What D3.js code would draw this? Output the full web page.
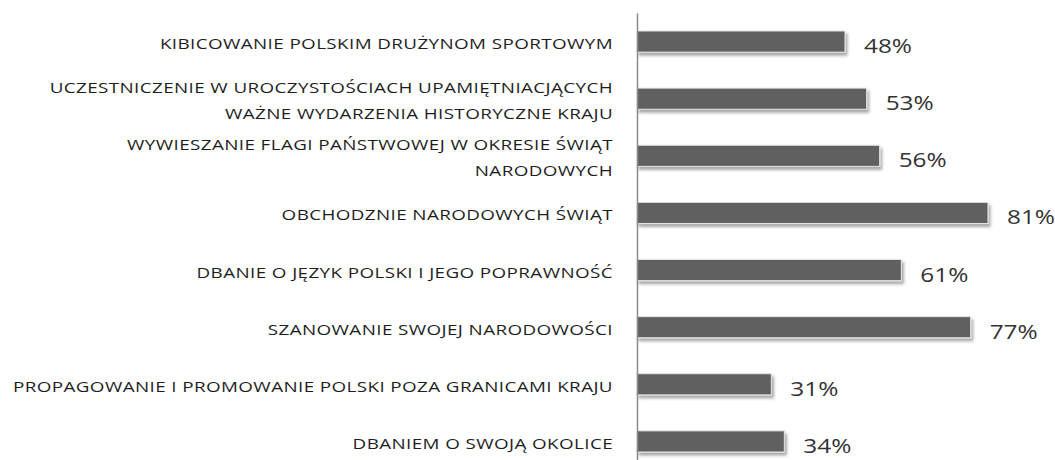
<!DOCTYPE html>
<html>
<head>
<meta charset="utf-8">
<script src="https://cdn.jsdelivr.net/npm/d3@7"></script>
<style>
  body { margin: 0; background: #fff; }
  svg { display: block; }
  .cat-label { font-family: "Open Sans", sans-serif; font-size: 14.5px; letter-spacing: 0.3px; fill: #1e1e1e; }
  .val-label { font-family: "Open Sans", sans-serif; font-size: 20px; fill: #333; }
</style>
</head>
<body>
<div id="chart"></div>
<script>
// category labels, each split into lines as in the original
const categories = [
  ["KIBICOWANIE POLSKIM DRUŻYNOM SPORTOWYM"],
  ["UCZESTNICZENIE W UROCZYSTOŚCIACH UPAMIĘTNIACJĄCYCH", "WAŻNE WYDARZENIA HISTORYCZNE KRAJU"],
  ["WYWIESZANIE FLAGI PAŃSTWOWEJ W OKRESIE ŚWIĄT", "NARODOWYCH"],
  ["OBCHODZNIE NARODOWYCH ŚWIĄT"],
  ["DBANIE O JĘZYK POLSKI I JEGO POPRAWNOŚĆ"],
  ["SZANOWANIE SWOJEJ NARODOWOŚCI"],
  ["PROPAGOWANIE I PROMOWANIE POLSKI POZA GRANICAMI KRAJU"],
  ["DBANIEM O SWOJĄ OKOLICE"],
];
const values = [48, 53, 56, 81, 61, 77, 31, 34];

const width = 1055;
const height = 460;
const axisX = 637;
const labelRight = 613;
// the source picture is stretched horizontally; mimic that on text
const catStretch = 1.3;
const valStretch = 1.22;

const data = categories.map((lines, i) => ({ id: i, lines, value: values[i] }));

const svg = d3
  .select("#chart")
  .append("svg")
  .attr("width", width)
  .attr("height", height);

const defs = svg.append("defs");
const shadow = defs
  .append("filter")
  .attr("id", "shadow")
  .attr("x", "-5%")
  .attr("y", "-30%")
  .attr("width", "115%")
  .attr("height", "180%");
shadow
  .append("feDropShadow")
  .attr("dx", 2)
  .attr("dy", 3)
  .attr("stdDeviation", 1.5)
  .attr("flood-color", "#000")
  .attr("flood-opacity", 0.35);

const xScale = d3.scaleLinear().domain([0, 100]).range([axisX, axisX + 433.3]);

const yScale = d3
  .scaleBand()
  .domain(data.map((d) => d.id))
  .range([13, 470])
  .paddingInner(0.63)
  .paddingOuter(0.315);

const mid = (d) => yScale(d.id) + yScale.bandwidth() / 2;

// bars
svg
  .selectAll("rect.bar")
  .data(data)
  .join("rect")
  .attr("class", "bar")
  .attr("x", xScale(0))
  .attr("y", (d) => yScale(d.id))
  .attr("width", (d) => xScale(d.value) - xScale(0))
  .attr("height", yScale.bandwidth())
  .attr("fill", "#606060")
  .attr("stroke", "#e4e4e4")
  .attr("stroke-width", 1)
  .attr("filter", "url(#shadow)");

// vertical axis line
svg
  .append("g")
  .attr("class", "y-axis")
  .attr("transform", `translate(${axisX},0)`)
  .call(d3.axisLeft(yScale).tickSize(0).tickFormat(""))
  .call((g) => g.select(".domain").attr("stroke", "#8a8a8a").attr("stroke-width", 1.5));

// category labels
const lineHeight = 26;
svg
  .append("g")
  .attr("transform", `translate(${labelRight},0) scale(${catStretch},1)`)
  .selectAll("text.cat-label")
  .data(data)
  .join("text")
  .attr("class", "cat-label")
  .attr("text-anchor", "end")
  .attr("x", 0)
  .attr("y", mid)
  .each(function (d) {
    const n = d.lines.length;
    d3.select(this)
      .selectAll("tspan")
      .data(d.lines)
      .join("tspan")
      .attr("x", 0)
      .attr("dy", (l, i) => (i === 0 ? (-(n - 1) / 2) * lineHeight + 7.5 : lineHeight))
      .text((l) => l);
  });

// value labels
svg
  .selectAll("text.val-label")
  .data(data)
  .join("text")
  .attr("class", "val-label")
  .attr("transform", (d) => `translate(${xScale(d.value) + 19},${mid(d) + 11.5}) scale(${valStretch},1)`)
  .text((d) => `${d.value}%`);
</script>
</body>
</html>
